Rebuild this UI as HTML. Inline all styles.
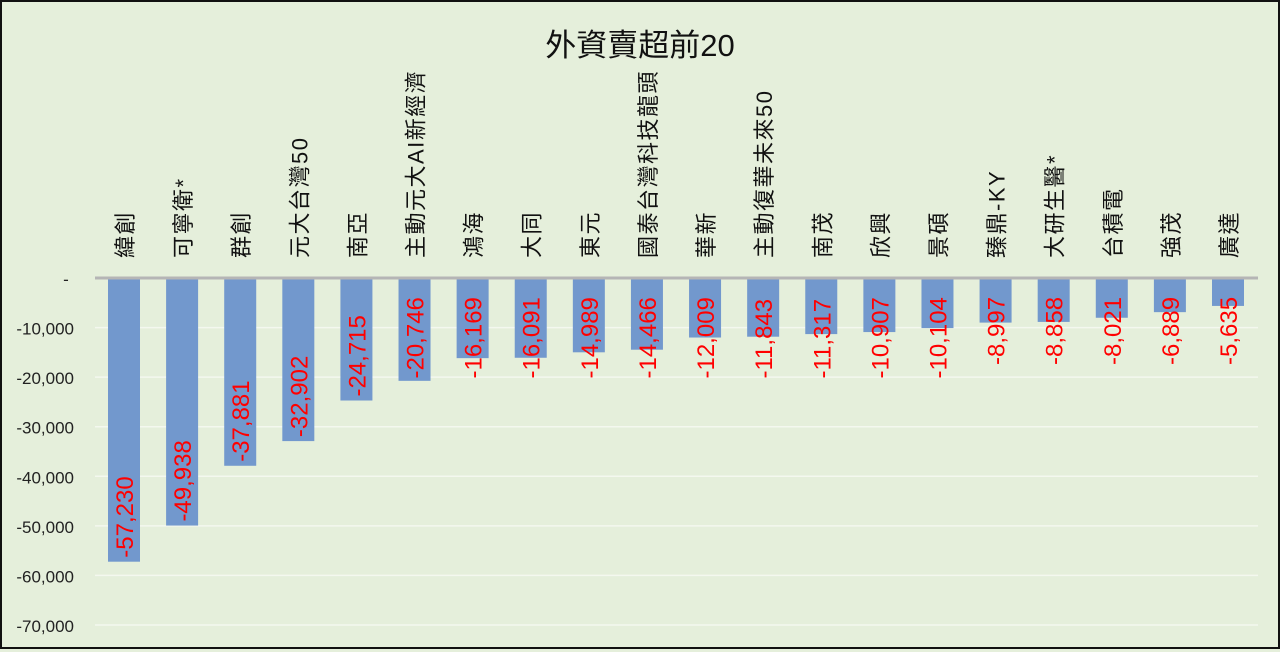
<!DOCTYPE html>
<html><head><meta charset="utf-8">
<style>
html,body{margin:0;padding:0;}
body{width:1280px;height:649px;overflow:hidden;background:#e5efdb;}
#wrap{position:absolute;left:0;top:0;width:1276px;height:645px;border:2px solid #111;background:#e5efdb;}
text{font-family:"Liberation Sans","Noto Sans CJK TC",sans-serif;}
</style></head>
<body>
<div id="wrap">
<svg id="chart" width="1276" height="645"></svg>
</div>
<script>
const categories=["緯創","可寧衛*","群創","元大台灣50","南亞","主動元大AI新經濟","鴻海","大同","東元","國泰台灣科技龍頭","華新","主動復華未來50","南茂","欣興","景碩","臻鼎-KY","大研生醫*","台積電","強茂","廣達"];
const values=[-57230,-49938,-37881,-32902,-24715,-20746,-16169,-16091,-14989,-14466,-12009,-11843,-11317,-10907,-10104,-8997,-8858,-8021,-6889,-5635];
const ticks=[0,-10000,-20000,-30000,-40000,-50000,-60000,-70000];
const tickLabels=["-","-10,000","-20,000","-30,000","-40,000","-50,000","-60,000","-70,000"];
const NS="http://www.w3.org/2000/svg";
const svg=document.getElementById('chart');
const ox=-2,oy=-2;
const y0=278,pxPer=(625-278)/70000;
const yScale=v=>y0+(-v)*pxPer+oy;
const xLeft=95,xRight=1258,step=(1228-124)/19;
const xScale=i=>124+i*step+ox;
function mk(t,a){const e=document.createElementNS(NS,t);for(const k in a)e.setAttribute(k,a[k]);svg.appendChild(e);return e;}
const title=mk('text',{x:640+ox,y:56+oy,'font-size':31,'text-anchor':'middle',fill:'#111'});
title.textContent="外資賣超前20";


ticks.forEach((t,i)=>{
  const y=yScale(t);
  if(i>0){const g=mk('line',{x1:xLeft+ox,x2:xRight+ox,y1:y,y2:y,stroke:'#f4f8ef','stroke-width':1.5});
  
  }
  const l=mk('text',{x:(i==0?66:74)+ox,y:y+7,'font-size':17,'text-anchor':i==0?'middle':'end',fill:'#222'});
  l.textContent=tickLabels[i];
  
  
});
const bw=32;
values.forEach((v,i)=>{
  const cx=xScale(i),yb=yScale(v),yz=yScale(0);
  const r=mk('rect',{x:cx-bw/2,y:yz,width:bw,height:yb-yz,fill:'#7298cd'});
  
  
  const s=v.toLocaleString('en-US');
  const len=s.length*13.5;
  const ys=Math.max(yb-4,yz+6+len);
  const t=mk('text',{x:cx+9,y:ys,'font-size':24,fill:'#ff0000',transform:`rotate(-90 ${cx+9} ${ys})`});
  t.textContent=s;
  
  
  const c=mk('text',{x:cx+9,y:258+oy,'font-size':22,'letter-spacing':1.5,fill:'#111',transform:`rotate(-90 ${cx+9} ${258+oy})`});
  c.textContent=categories[i];
  
  
});
const z=mk('line',{x1:xLeft+ox,x2:xRight+ox,y1:yScale(0),y2:yScale(0),stroke:'#b5b5b5','stroke-width':3});


</script>
</body></html>
